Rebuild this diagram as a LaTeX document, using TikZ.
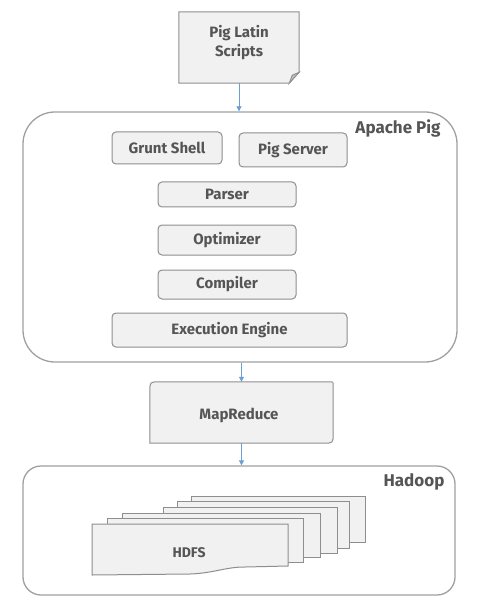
\documentclass[tikz,border=0pt]{standalone}
\usepackage{fontspec}
\setmainfont{Fira Sans}
\usetikzlibrary{arrows.meta,calc}
\definecolor{boxfill}{HTML}{F1F1F1}
\definecolor{boxline}{HTML}{8E8E8E}
\definecolor{txt}{HTML}{555555}
\definecolor{arrowc}{HTML}{6A9FD4}
\definecolor{frameline}{HTML}{A0A0A0}
\begin{document}
\begin{tikzpicture}[x=1pt,y=-1pt,
  comp/.style={draw=boxline, fill=boxfill, rounded corners=4pt, line width=1pt, inner sep=0pt, font=\bfseries\fontsize{15}{18}\selectfont, text=txt},
  ghost/.style={inner sep=0pt, font=\bfseries\fontsize{15}{19}\selectfont, text=txt, align=center},
  shapeline/.style={draw=boxline, fill=boxfill, line width=1pt},
  frame/.style={draw=frameline, line width=1.3pt, inner sep=0pt},
  framelabel/.style={font=\bfseries\fontsize{17}{20}\selectfont, text=txt, inner sep=0pt},
  flow/.style={draw=arrowc, line width=0.8pt, -{Triangle[length=5pt,width=5pt]}}]
\useasboundingbox (0,0) rectangle (482,612);

% Pig Latin Scripts (folded note)
\node[ghost, minimum width=120pt, minimum height=71pt] (pls) at (239,47.5) {};
\draw[shapeline] (pls.north west) -- (pls.north east) -- ($(pls.south east)+(0,-11)$) -- ($(pls.south east)+(-10,0)$) -- (pls.south west) -- cycle;
\draw[draw=boxline, fill=boxline!60, line width=0.8pt] ($(pls.south east)+(0,-11)$) -- ($(pls.south east)+(-10,0)$) -- ($(pls.south east)+(-7,-8)$) -- cycle;
\node[ghost] (plstext) at (239,43) {Pig Latin\\Scripts};

% Apache Pig frame
\node[frame, fill=white, rounded corners=32pt, minimum width=434pt, minimum height=250pt] (pig) at (240,237) {};
\node[framelabel] (piglabel) at (398,128) {Apache Pig};

\node[comp, minimum width=110pt, minimum height=32pt] (grunt) at (167,148) {Grunt Shell};
\node[comp, minimum width=108pt, minimum height=34pt] (server) at (293,150) {Pig Server};
\node[comp, minimum width=138pt, minimum height=25pt] (parser) at (227,194.5) {Parser};
\node[comp, minimum width=138pt, minimum height=30pt] (optim) at (227,240) {Optimizer};
\node[comp, minimum width=138pt, minimum height=29pt] (compiler) at (227,284.5) {Compiler};
\node[comp, minimum width=235pt, minimum height=34pt] (exec) at (229.5,330) {Execution Engine};

% MapReduce
\node[ghost, minimum width=183pt, minimum height=61pt] (mr) at (241.5,412.5) {};
\draw[shapeline] (mr.south west) -- ($(mr.north west)+(0,10)$) .. controls (mr.north west) .. ($(mr.north west)+(10,0)$)
  -- ($(mr.north east)+(-4,0)$) .. controls (mr.north east) .. ($(mr.north east)+(0,4)$)
  -- ($(mr.south east)+(0,-10)$) .. controls (mr.south east) .. ($(mr.south east)+(-10,0)$) -- cycle;
\node[ghost] (mrtext) at (239,415) {MapReduce};

% Hadoop frame
\node[frame, fill=white, rounded corners=18pt, minimum width=432pt, minimum height=129pt] (hadoop) at (239,530.5) {};
\node[framelabel] (hadooplabel) at (414,482) {Hadoop};

% HDFS stack
\draw[shapeline] (191,496) rectangle (365,542);
\draw[shapeline] (177,501) rectangle (349,548);
\draw[shapeline] (163,507) rectangle (337,553);
\draw[shapeline] (122,513) rectangle (320,557);
\draw[shapeline] (107,518) rectangle (303,562);
\draw[shapeline] (92,524) -- (288,524) -- (288,566) -- (245,567) .. controls (225,567) and (215,573) .. (190,574) -- (92,575) -- cycle;
\node[ghost, font=\bfseries\fontsize{14}{16}\selectfont] (hdfs) at (189,553) {HDFS};

% connectors
\draw[flow] (pls.south) -- (pls.south |- pig.north);
\draw[flow] (pig.south -| mr.north) -- (mr.north);
\draw[flow] (mr.south) -- (mr.south |- hadoop.north);
\end{tikzpicture}
\end{document}
